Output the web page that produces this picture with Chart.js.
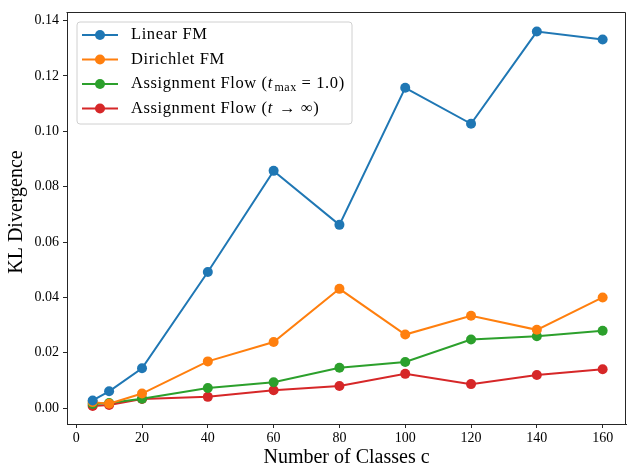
<!DOCTYPE html>
<html>
<head>
<meta charset="utf-8">
<script src="https://cdn.jsdelivr.net/npm/chart.js@4.4.1/dist/chart.umd.min.js"></script>
<style>
html,body{margin:0;padding:0;background:#fff;}
#wrap{width:627px;height:465px;position:relative;}
</style>
</head>
<body>
<div id="wrap"><canvas id="c" width="627" height="465"></canvas></div>
<script>
const classes = [5, 10, 20, 40, 60, 80, 100, 120, 140, 160];
const linearFM = [0.0028, 0.0061, 0.0144, 0.0492, 0.0857, 0.0662, 0.1157, 0.1027, 0.1360, 0.1331];
const dirichletFM = [0.0022, 0.0016, 0.0053, 0.0169, 0.0239, 0.0431, 0.0266, 0.0334, 0.0283, 0.0400];
const assignFlow1 = [0.0015, 0.0019, 0.0034, 0.0073, 0.0094, 0.0146, 0.0167, 0.0248, 0.0260, 0.0280];
const assignFlowInf = [0.0008, 0.0012, 0.0033, 0.0041, 0.0065, 0.0080, 0.0124, 0.0087, 0.0120, 0.0141];
const xTicks = [0, 20, 40, 60, 80, 100, 120, 140, 160];
const yTicks = [0.00, 0.02, 0.04, 0.06, 0.08, 0.10, 0.12, 0.14];
const seriesLabels = ["Linear FM", "Dirichlet FM", "Assignment Flow (t_max = 1.0)", "Assignment Flow (t → ∞)"];
const colors = ["#1f77b4", "#ff7f0e", "#2ca02c", "#d62728"];
const xTitle = "Number of Classes c";
const yTitle = "KL Divergence";
// legend rich-text segments: [text, style] style: n normal, i italic, s subscript
const legendRich = [
  [["Linear FM","n"]],
  [["Dirichlet FM","n"]],
  [["Assignment Flow (","n"],["t","i"],["max","s"],[" = 1.0)","n"]],
  [["Assignment Flow (","n"],["t","i"],[" → ∞)","n"]]
];

const FONT = "'Liberation Serif', 'DejaVu Serif', serif";
const seriesData = [linearFM, dirichletFM, assignFlow1, assignFlowInf];

const LW = 2, PR = 5;
const datasets = seriesData.map((arr, i) => ({
  label: seriesLabels[i],
  data: classes.map((c, j) => ({x: c, y: arr[j]})),
  borderColor: colors[i],
  backgroundColor: colors[i],
  borderWidth: LW,
  pointRadius: PR,
  pointBorderWidth: 0,
  pointHoverRadius: PR,
  tension: 0,
  fill: false
}));

const frameLegend = {
  id: 'frameLegend',
  afterDraw(chart) {
    const ctx = chart.ctx, a = chart.chartArea;
    ctx.save();
    ctx.strokeStyle = '#262626';
    ctx.lineWidth = 1;
    ctx.beginPath();
    ctx.moveTo(Math.round(a.left) - 0.5, Math.round(a.top) - 0.5);
    ctx.lineTo(Math.round(a.right) - 0.5, Math.round(a.top) - 0.5);
    ctx.lineTo(Math.round(a.right) - 0.5, Math.round(a.bottom));
    ctx.stroke();
    // y-axis title
    ctx.save();
    ctx.translate(17, 212);
    ctx.rotate(-Math.PI / 2);
    ctx.font = `20px ${FONT}`;
    ctx.fillStyle = '#000';
    ctx.textAlign = 'center';
    ctx.textBaseline = 'middle';
    ctx.fillText(yTitle, 0, 0);
    ctx.restore();
    // legend
    const bx = 77, by = 22, bw = 275, bh = 102, r = 3;
    ctx.beginPath();
    ctx.moveTo(bx + r, by);
    ctx.arcTo(bx + bw, by, bx + bw, by + bh, r);
    ctx.arcTo(bx + bw, by + bh, bx, by + bh, r);
    ctx.arcTo(bx, by + bh, bx, by, r);
    ctx.arcTo(bx, by, bx + bw, by, r);
    ctx.closePath();
    ctx.fillStyle = 'rgba(255,255,255,0.8)';
    ctx.fill();
    ctx.strokeStyle = '#d0d0d0';
    ctx.stroke();
    const rows = [35, 59.5, 84, 108.5];
    chart.data.datasets.forEach((ds, i) => {
      const y = rows[i];
      ctx.strokeStyle = ds.borderColor;
      ctx.lineWidth = LW;
      ctx.beginPath(); ctx.moveTo(82, y); ctx.lineTo(118, y); ctx.stroke();
      ctx.fillStyle = ds.borderColor;
      ctx.beginPath(); ctx.arc(100, y, PR, 0, Math.PI * 2); ctx.fill();
      let x = 131;
      ctx.fillStyle = '#000';
      ctx.textBaseline = 'middle';
      ctx.textAlign = 'left';
      legendRich[i].forEach(([t, s]) => {
        let f, dy = 0;
        if (s === 'n') f = `16.5px ${FONT}`;
        else if (s === 'i') f = `italic 16.5px ${FONT}`;
        else { f = `12px ${FONT}`; dy = 4; }
        ctx.font = f;
        try { ctx.letterSpacing = '0.6px'; } catch (e) {}
        ctx.fillText(t, x, y + dy);
        x += ctx.measureText(t).width + (s === 'i' ? 1.5 : 0);
      });
    });
    ctx.restore();
  }
};

new Chart(document.getElementById('c'), {
  type: 'line',
  data: { datasets },
  options: {
    responsive: false,
    animation: false,
    devicePixelRatio: 1,
    layout: { autoPadding: false, padding: { top: 13, right: 1, left: 0, bottom: 0 } },
    plugins: { legend: { display: false }, tooltip: { enabled: false } },
    scales: {
      x: {
        type: 'linear',
        min: -2.8, max: 167.1,
        afterBuildTicks: s => { s.ticks = xTicks.map(v => ({value: v})); },
        afterFit: s => { s.height = 41; s.paddingLeft = 0; s.paddingRight = 0; },
        grid: { display: true, drawOnChartArea: false, drawTicks: true, tickLength: 4, color: '#262626', lineWidth: 1 },
        border: { display: true, color: '#262626', width: 1 },
        ticks: { color: '#000', font: { family: FONT, size: 14 }, padding: 2, maxRotation: 0, autoSkip: false },
        title: { display: true, text: xTitle, color: '#000', font: { family: FONT, size: 20, lineHeight: 0.7 }, padding: { top: 0, bottom: 0 } }
      },
      y: {
        type: 'linear',
        min: -0.0057, max: 0.1427,
        afterBuildTicks: s => { s.ticks = yTicks.map(v => ({value: v})); },
        afterFit: s => { s.width = 67; s.paddingTop = 0; s.paddingBottom = 0; },
        grid: { display: true, drawOnChartArea: false, drawTicks: true, tickLength: 4, color: '#262626', lineWidth: 1 },
        border: { display: true, color: '#262626', width: 1 },
        ticks: { color: '#000', font: { family: FONT, size: 14 }, padding: 4, autoSkip: false, callback: v => v.toFixed(2) },
        title: { display: false }
      }
    }
  },
  plugins: [frameLegend]
});
</script>
</body>
</html>
